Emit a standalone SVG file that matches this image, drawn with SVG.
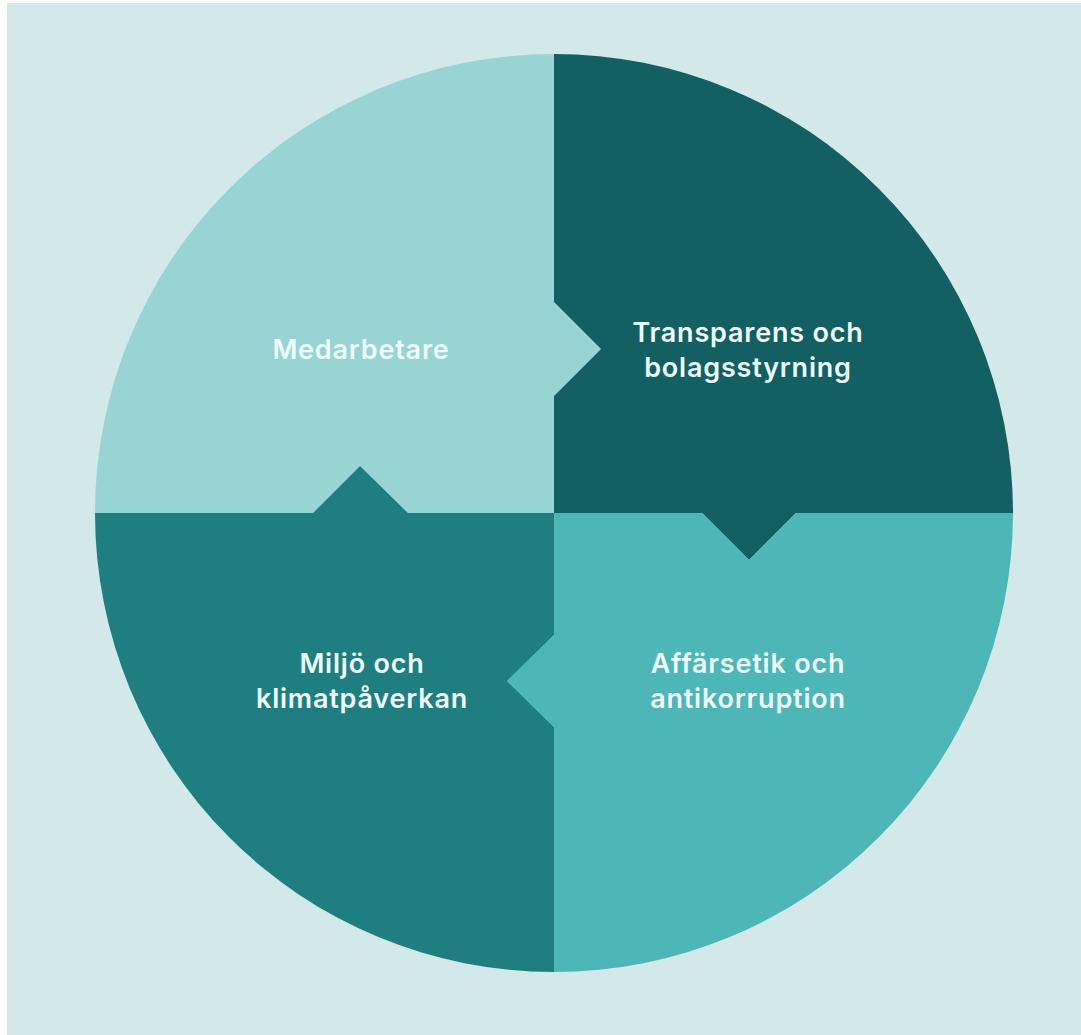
<svg xmlns="http://www.w3.org/2000/svg" width="1081" height="1035" viewBox="0 0 1081 1035">
  <style>
    .lbl { font-family: "Inter", "Liberation Sans", sans-serif; font-weight: 600; font-size: 27px; letter-spacing: 0.8px; fill: #eefcfc; text-anchor: middle; }
  </style>
  <rect x="0" y="0" width="1081" height="1035" fill="#ffffff"/>
  <rect x="7" y="3" width="1074" height="1032" fill="#d2e8e9"/>
  <g id="medarbetare">
    <path d="M554,513 L408,513 L360,466 L313,513 L95,513 A459,459 0 0 1 554,54 L554,302 L601,349 L554,396 Z" fill="#98d4d4"/>
    <text class="lbl" x="361" y="359">Medarbetare</text>
  </g>
  <g id="transparens">
    <path d="M554,513 L554,396 L601,349 L554,302 L554,54 A459,459 0 0 1 1013,513 L796,513 L749,560 L702,513 Z" fill="#126062"/>
    <text class="lbl" x="748" y="342">Transparens och</text>
    <text class="lbl" x="748" y="377">bolagsstyrning</text>
  </g>
  <g id="affarsetik">
    <path d="M554,513 L702,513 L749,560 L796,513 L1013,513 A459,459 0 0 1 554,972 L554,727 L507,681 L554,635 Z" fill="#4db6b7"/>
    <text class="lbl" x="748" y="673">Affärsetik och</text>
    <text class="lbl" x="748" y="708">antikorruption</text>
  </g>
  <g id="miljo">
    <path d="M554,513 L554,635 L507,681 L554,727 L554,972 A459,459 0 0 1 95,513 L313,513 L360,466 L408,513 Z" fill="#1f7f80"/>
    <text class="lbl" x="362" y="673">Miljö och</text>
    <text class="lbl" x="362" y="708">klimatpåverkan</text>
  </g>
  <g id="connectors"></g>
</svg>
